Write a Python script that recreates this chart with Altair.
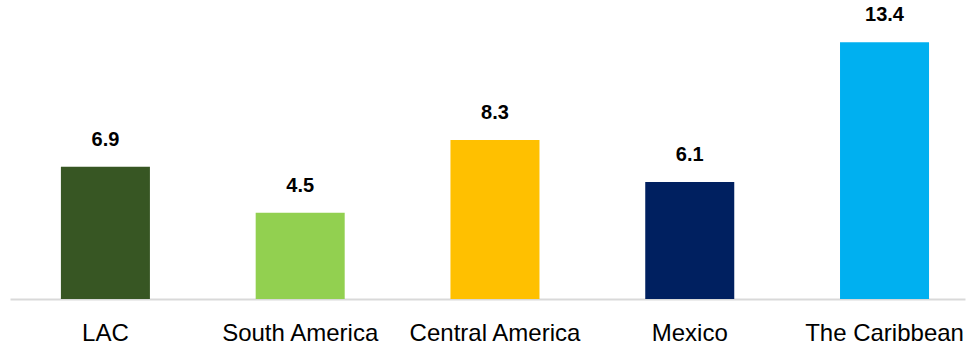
import altair as alt
import pandas as pd

regions = ["LAC", "South America", "Central America", "Mexico", "The Caribbean"]
values = [6.9, 4.5, 8.3, 6.1, 13.4]
colors = ["#375623", "#92d050", "#ffc000", "#002060", "#00b0f0"]

df = pd.DataFrame({"region": regions, "value": values})

x = alt.X("region:N", sort=regions, title=None,
          scale=alt.Scale(paddingInner=0.543, paddingOuter=0.223, align=0.586),
          axis=alt.Axis(labelAngle=0, ticks=False, domainColor="#d9d9d9", domainWidth=2,
                        labelFont="Liberation Sans", labelFontSize=24, labelColor="#000000",
                        labelPadding=22))
y = alt.Y("value:Q", title=None, scale=alt.Scale(domain=[0, 15.6], nice=False, zero=True),
          axis=None)

bars = alt.Chart(df).mark_bar().encode(
    x=x, y=y,
    color=alt.Color("region:N", scale=alt.Scale(domain=regions, range=colors), legend=None),
)
labels = alt.Chart(df).mark_text(baseline="bottom", dy=-17, fontWeight="bold", fontSize=20,
                                  font="Liberation Sans", color="#000000").encode(
    x=x, y=y, text=alt.Text("value:Q", format=".1f"))

chart = (bars + labels).properties(
    width=955, height=299,
    background="white",
    autosize=alt.AutoSizeParams(type="none"),
    padding={"left": 10, "top": 0, "right": 5, "bottom": 51},
).configure_view(stroke=None)

chart.save("out.html", embed_options={"renderer": "svg", "actions": False})
